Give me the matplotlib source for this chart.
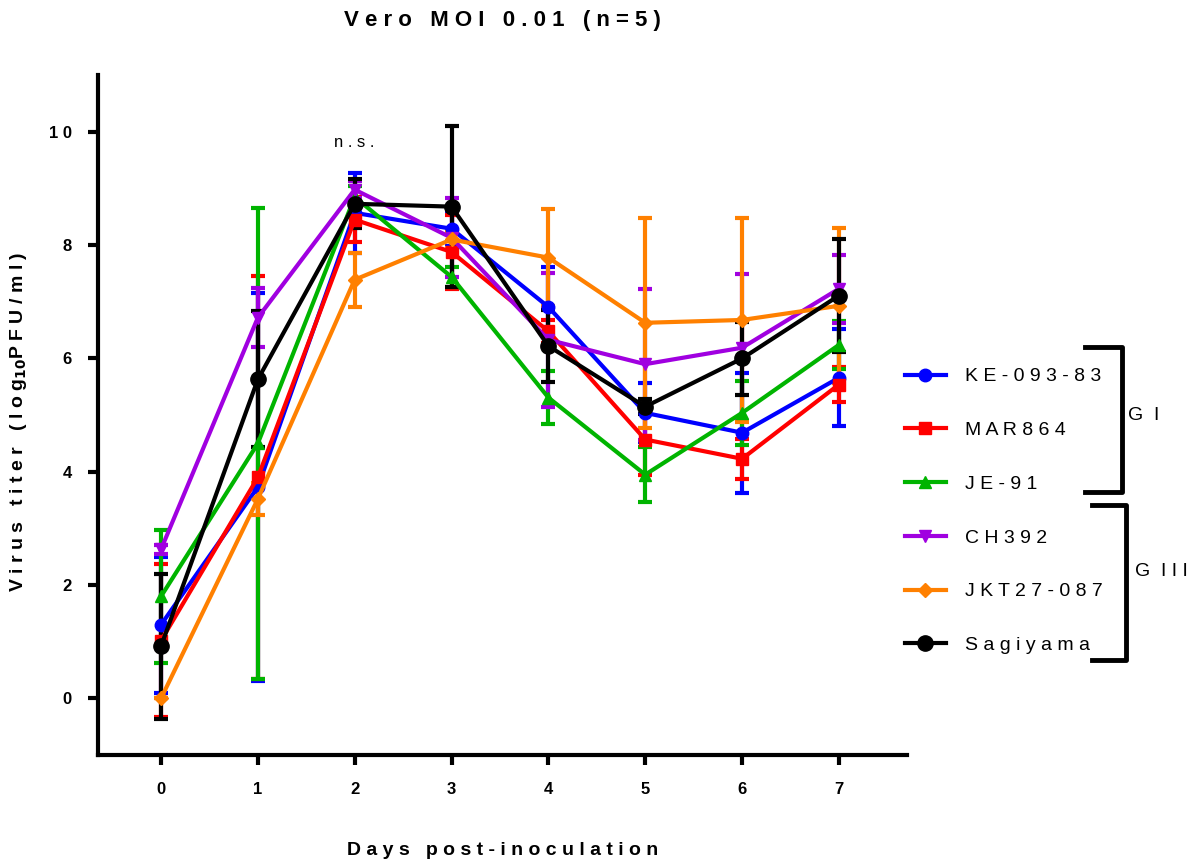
import matplotlib
matplotlib.use("Agg")
import matplotlib.pyplot as plt
from matplotlib.lines import Line2D

plt.rcParams["font.family"] = ["Liberation Sans", "DejaVu Sans"]

days = [0, 1, 2, 3, 4, 5, 6, 7]

strains = ["KE-093-83", "MAR864", "JE-91", "CH392", "JKT27-087", "Sagiyama"]
colors = ["#0000ff", "#ff0000", "#00b400", "#a000e0", "#ff8000", "#000000"]
markers = ["o", "s", "^", "v", "D", "o"]

ke_mean = [1.30, 3.73, 8.57, 8.29, 6.91, 5.04, 4.69, 5.66]
ke_sd = [1.20, 3.43, 0.70, 0.30, 0.70, 0.52, 1.06, 0.86]
mar_mean = [1.02, 3.90, 8.45, 7.88, 6.48, 4.57, 4.23, 5.54]
mar_sd = [1.35, 3.56, 0.40, 0.66, 0.20, 0.62, 0.35, 0.31]
je_mean = [1.80, 4.50, 8.85, 7.44, 5.31, 3.95, 5.04, 6.24]
je_sd = [1.17, 4.15, 0.20, 0.17, 0.47, 0.49, 0.56, 0.42]
ch_mean = [2.63, 6.72, 8.98, 8.13, 6.33, 5.90, 6.19, 7.23]
ch_sd = [0.08, 0.52, 0.15, 0.70, 1.18, 1.33, 1.30, 0.60]
jkt_mean = [0.00, 3.52, 7.39, 8.10, 7.78, 6.63, 6.68, 6.93]
jkt_sd = [0.00, 0.28, 0.48, 0.15, 0.86, 1.85, 1.80, 1.37]
sag_mean = [0.92, 5.63, 8.73, 8.68, 6.22, 5.15, 6.00, 7.11]
sag_sd = [1.28, 1.20, 0.43, 1.42, 0.63, 0.13, 0.65, 1.00]

means = [ke_mean, mar_mean, je_mean, ch_mean, jkt_mean, sag_mean]
sds = [ke_sd, mar_sd, je_sd, ch_sd, jkt_sd, sag_sd]
msizes = [9, 9, 9, 9, 7, 11]


def spaced(s):
    return " ".join(s)


fig = plt.figure(figsize=(11.91, 8.64), dpi=100)
ax = fig.add_axes([0.0823, 0.126, 0.679, 0.787])

handles = []
for name, c, m, ms, mean, sd in zip(strains, colors, markers, msizes, means, sds):
    eb = ax.errorbar(days, mean, yerr=sd, color=c, marker=m, markersize=ms,
                     lw=3, elinewidth=3, capsize=5, capthick=3)
    line = eb.lines[0]
    line.set_label(spaced(name))
    handles.append(line)

ax.text(2, 9.82, "n . s .", ha="center", va="center", fontsize=12)

ax.set_xlim(-0.65, 7.7)
ax.set_ylim(-1.0, 11.0)
ax.set_xticks(days)
ax.set_xticklabels([str(d) for d in days], fontsize=12, fontweight="bold")
yt = [0, 2, 4, 6, 8, 10]
ax.set_yticks(yt)
ax.set_yticklabels([spaced(str(v)) for v in yt], fontsize=12, fontweight="bold")
ax.tick_params(width=3, length=7, pad=12)

for side in ["top", "right"]:
    ax.spines[side].set_visible(False)
for side in ["left", "bottom"]:
    ax.spines[side].set_linewidth(3)

ax.set_xlabel(spaced("Days post-inoculation"), fontsize=14, fontweight="bold")
ax.xaxis.set_label_coords(0.5, -0.128)
ax.set_ylabel(r"V i r u s   t i t e r   ( l o g$_{\mathbf{10}}$P F U / m l )",
              fontsize=14, fontweight="bold")
ax.yaxis.set_label_coords(-0.085, 0.49)
fig.text(0.4215, 0.976, spaced("Vero MOI 0.01 (n=5)"), ha="center", va="center",
         fontsize=16, fontweight="bold")

leg = ax.legend(handles=handles, loc="center left",
                bbox_to_anchor=(0.745, 1 - 511 / 864),
                bbox_transform=fig.transFigure, frameon=False, fontsize=14,
                handlelength=2.1, handletextpad=1.0, labelspacing=1.86)


# group brackets
def bracket(x0, x1, y0, y1):
    fig.add_artist(Line2D([x0, x1, x1, x0], [y0, y0, y1, y1],
                          transform=fig.transFigure, color="black", lw=3.5))


bracket(1085 / 1191, 1122 / 1191, 1 - 347 / 864, 1 - 492 / 864)
bracket(1092 / 1191, 1126 / 1191, 1 - 505 / 864, 1 - 660 / 864)
fig.text(1128 / 1191, 1 - 416 / 864, "G  I", fontsize=14, va="center")
fig.text(1135 / 1191, 1 - 572 / 864, "G  I I I", fontsize=14, va="center")

fig.savefig("out.png", dpi=100)
